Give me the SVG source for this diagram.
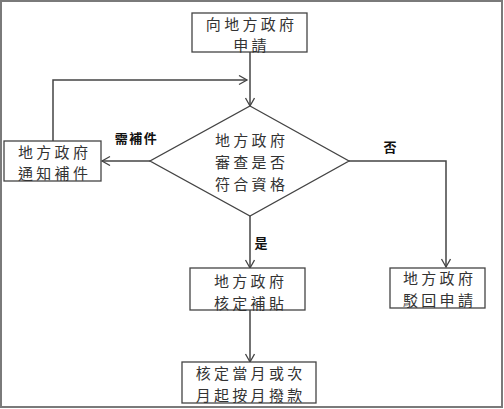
<svg xmlns="http://www.w3.org/2000/svg" width="504" height="409" viewBox="0 0 504 409">
<defs>
<style>
.box{fill:#fff;stroke:#444;stroke-width:1.3}
.t{font-family:"Noto Sans CJK TC","Noto Sans CJK SC",sans-serif;font-size:15px;fill:#333;text-anchor:middle;letter-spacing:3.3px;dominant-baseline:central}
.lab{font-family:"Noto Sans CJK TC","Noto Sans CJK SC",sans-serif;font-size:13px;font-weight:bold;fill:#111;text-anchor:middle;letter-spacing:1.5px;dominant-baseline:central}
.c{fill:none;stroke:#444;stroke-width:1.5}
</style>
<marker id="ah" markerWidth="12" markerHeight="12" refX="9" refY="5" orient="auto" markerUnits="userSpaceOnUse">
<path d="M1,0.5 L9,5 L1,9.5" fill="none" stroke="#444" stroke-width="1.3"/>
</marker>
</defs>
<rect x="1" y="1" width="501" height="406" fill="#fff" stroke="#7a7a7a" stroke-width="2"/>
<g id="connectors">
<line class="c" x1="250" y1="52" x2="250" y2="106" marker-end="url(#ah)"/>
<polyline class="c" points="53,141 53,80 247,80" marker-end="url(#ah)"/>
<line class="c" x1="150" y1="161" x2="102" y2="161" marker-end="url(#ah)"/>
<polyline class="c" points="349,161 446,161 446,267" marker-end="url(#ah)"/>
<line class="c" x1="250" y1="216" x2="250" y2="268" marker-end="url(#ah)"/>
<line class="c" x1="250" y1="310" x2="250" y2="362" marker-end="url(#ah)"/>
<text class="lab" x="136.5" y="137">需補件</text>
<text class="lab" x="390.7" y="146">否</text>
<text class="lab" x="261.7" y="242">是</text>
</g>
<g id="n-apply">
<rect class="box" x="192" y="13" width="115" height="39"/>
<text class="t" x="251.6" y="23">向地方政府</text>
<text class="t" x="251.6" y="44">申請</text>
</g>
<g id="n-review">
<polygon class="box" points="250,106 349,161 250,216 150,161"/>
<text class="t" x="251.6" y="139">地方政府</text>
<text class="t" x="251.6" y="161">審查是否</text>
<text class="t" x="251.6" y="183">符合資格</text>
</g>
<g id="n-notify">
<rect class="box" x="4" y="141" width="97" height="40"/>
<text class="t" x="54.6" y="151">地方政府</text>
<text class="t" x="54.6" y="172">通知補件</text>
</g>
<g id="n-approve">
<rect class="box" x="190" y="268" width="115" height="42"/>
<text class="t" x="250.6" y="280">地方政府</text>
<text class="t" x="250.6" y="302">核定補貼</text>
</g>
<g id="n-reject">
<rect class="box" x="390" y="268" width="95" height="40"/>
<text class="t" x="439.6" y="277">地方政府</text>
<text class="t" x="439.6" y="299">駁回申請</text>
</g>
<g id="n-pay">
<rect class="box" x="182" y="362" width="134" height="41"/>
<text class="t" x="250.6" y="372">核定當月或次</text>
<text class="t" x="250.6" y="394">月起按月撥款</text>
</g>
</svg>
